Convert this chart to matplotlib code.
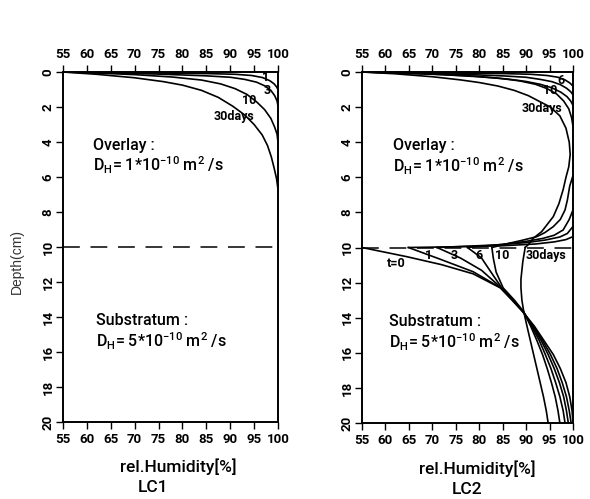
import matplotlib
matplotlib.use('Agg')
import matplotlib.pyplot as plt

# ---------------- data (RH in %, depth in cm) ----------------
x_ticks = [55, 60, 65, 70, 75, 80, 85, 90, 95, 100]
y_ticks = [0, 2, 4, 6, 8, 10, 12, 14, 16, 18, 20]
interface_depth = 10

# LC1 (overlay drying from the surface)
lc1_t1_rh = [55, 65, 75, 85, 91, 94.5, 96.8, 98.3, 99.2, 99.7, 100]
lc1_t1_d = [0, 0.03, 0.06, 0.09, 0.13, 0.2, 0.32, 0.5, 0.68, 0.85, 1.0]
lc1_t3_rh = [55, 65, 75, 85, 90, 93, 95.5, 97.3, 98.5, 99.3, 99.8, 100]
lc1_t3_d = [0, 0.05, 0.12, 0.22, 0.3, 0.42, 0.58, 0.8, 1.05, 1.35, 1.65, 1.95]
lc1_t10_rh = [55, 62, 70, 78, 84, 88, 91, 93.5, 95.5, 97.2, 98.5, 99.3, 99.8, 100]
lc1_t10_d = [0, 0.06, 0.15, 0.29, 0.46, 0.68, 0.95, 1.28, 1.7, 2.15, 2.65, 3.15, 3.55, 4.0]
lc1_t30_rh = [55, 62, 70, 76, 80, 84, 87.5, 90.5, 93, 95, 96.7, 97.8, 98.6, 99.2, 99.7, 100]
lc1_t30_d = [0, 0.13, 0.33, 0.55, 0.75, 1.05, 1.45, 1.95, 2.45, 3.0, 3.6, 4.2, 4.85, 5.5, 6.1, 6.7]

# LC2 overlay, near the surface
lc2_t1_top_rh = [55, 65, 75, 85, 91, 94.5, 96.8, 98.3, 99.3, 100]
lc2_t1_top_d = [0, 0.03, 0.06, 0.09, 0.13, 0.2, 0.3, 0.45, 0.62, 0.8]
lc2_t3_top_rh = [55, 65, 75, 85, 90, 93, 95.5, 97.3, 98.6, 99.5, 100]
lc2_t3_top_d = [0, 0.05, 0.12, 0.22, 0.3, 0.42, 0.55, 0.72, 0.92, 1.12, 1.3]
lc2_t6_top_rh = [55, 63, 72, 80, 86, 90, 93, 95.5, 97.4, 98.7, 99.5, 100]
lc2_t6_top_d = [0, 0.06, 0.15, 0.27, 0.4, 0.54, 0.7, 0.9, 1.15, 1.4, 1.65, 1.9]
lc2_t10_top_rh = [55, 62, 70, 78, 84, 88.5, 92, 94.5, 96.5, 98, 99.1, 99.7, 100]
lc2_t10_top_d = [0, 0.05, 0.12, 0.22, 0.35, 0.5, 0.7, 0.95, 1.25, 1.65, 2.1, 2.6, 3.1]
lc2_t30_ov_rh = [55, 62, 70, 76, 80, 84, 87.5, 90.5, 93, 95.2, 97.2, 98.5, 99.2, 99.4, 99.1,
                 98.5, 97.9, 97.0, 95.8, 93.3, 91.5, 90.6, 89.8]
lc2_t30_ov_d = [0, 0.1, 0.27, 0.45, 0.6, 0.8, 1.05, 1.35, 1.7, 2.0, 2.5, 3.2, 4.0, 4.7, 5.4,
                6.0, 6.7, 7.5, 8.24, 9.1, 9.48, 9.8, 10]

# LC2 overlay, near the interface
lc2_t1_if_rh = [100, 98.5, 96, 92, 85, 75, 64.9]
lc2_t1_if_d = [9.38, 9.55, 9.68, 9.8, 9.9, 9.96, 10]
lc2_t3_if_rh = [100, 98.8, 97.2, 94, 90, 84, 71]
lc2_t3_if_d = [8.8, 9.2, 9.4, 9.58, 9.72, 9.85, 10]
lc2_t6_if_rh = [100, 99.2, 97.9, 96, 93.6, 90, 85, 77.5]
lc2_t6_if_d = [7.86, 8.4, 9.0, 9.3, 9.48, 9.65, 9.82, 10]
lc2_t10_if_rh = [100, 99.3, 98.8, 98.3, 97.3, 95.8, 94, 92.3, 89, 86, 82.7]
lc2_t10_if_d = [5.9, 6.5, 7.3, 7.86, 8.4, 8.81, 9.15, 9.38, 9.6, 9.78, 10]

# LC2 substratum
lc2_t0_sub_rh = [55, 64.5, 72, 78.7, 84.5, 87.0, 89.3, 91.8, 93.8, 95.8, 97.3, 98.5, 99.3, 99.8, 100]
lc2_t0_sub_d = [10, 10.52, 10.98, 11.5, 12.3, 13.0, 13.66, 14.5, 15.3, 16.1, 16.9, 17.7, 18.5, 19.3, 20]
lc2_t1_sub_rh = [64.9, 71.5, 78.7, 84.6, 87.1, 89.3, 91.6, 93.5, 95.2, 96.6, 97.7, 98.6, 99.2, 99.6]
lc2_t1_sub_d = [10, 10.65, 11.38, 12.3, 13.0, 13.66, 14.5, 15.3, 16.1, 16.9, 17.7, 18.5, 19.3, 20]
lc2_t3_sub_rh = [71, 76, 80.5, 84.7, 87.2, 89.4, 91.4, 93.2, 94.7, 96.0, 97.1, 98.0, 98.6, 99.0]
lc2_t3_sub_d = [10, 10.6, 11.3, 12.3, 13.0, 13.66, 14.5, 15.3, 16.1, 16.9, 17.7, 18.5, 19.3, 20]
lc2_t6_sub_rh = [77.5, 80.5, 82.5, 84.8, 87.3, 89.4, 91.2, 92.8, 94.1, 95.3, 96.3, 97.2, 97.9, 98.3]
lc2_t6_sub_d = [10, 10.6, 11.4, 12.3, 13.0, 13.66, 14.5, 15.3, 16.1, 16.9, 17.7, 18.5, 19.3, 20]
lc2_t10_sub_rh = [82.7, 83.0, 83.6, 85.1, 87.5, 89.5, 91.0, 92.3, 93.5, 94.5, 95.4, 96.2, 96.8, 97.2]
lc2_t10_sub_d = [10, 10.6, 11.4, 12.3, 13.0, 13.66, 14.5, 15.3, 16.1, 16.9, 17.7, 18.5, 19.3, 20]
lc2_t30_sub_rh = [89.8, 89.3, 88.9, 88.9, 89.1, 89.5, 90.2, 90.9, 91.6, 92.3, 93.0, 93.7, 94.3, 94.7]
lc2_t30_sub_d = [10, 10.8, 11.8, 12.3, 13.0, 13.66, 14.5, 15.3, 16.1, 16.9, 17.7, 18.5, 19.3, 20]

# ---------------- figure ----------------
FONT = ['Roboto', 'DejaVu Sans']
plt.rcParams['font.family'] = FONT
plt.rcParams['mathtext.default'] = 'regular'

W, H = 590, 499
fig = plt.figure(figsize=(W / 100, H / 100), dpi=100)
ax1 = fig.add_axes([63 / W, 1 - 422 / H, 215 / W, 350 / H])
ax2 = fig.add_axes([362 / W, 1 - 423 / H, 211 / W, 351 / H])

LW = 1.2
for ax in (ax1, ax2):
    ax.set_xlim(55, 100)
    ax.set_ylim(20, 0)
    ax.set_xticks(x_ticks)
    ax.set_xticklabels([str(v) for v in x_ticks])
    ax.set_yticks(y_ticks)
    ax.set_yticklabels([str(v) for v in y_ticks], rotation=90, va='center')
    ax.tick_params(axis='x', top=True, labeltop=True, bottom=True, labelbottom=True,
                   direction='out', length=5, width=1.0, pad=3, labelsize=9.5)
    ax.tick_params(axis='y', direction='out', length=5, width=1.0, pad=1, labelsize=9.5)
    for t in ax.xaxis.get_major_ticks() + ax.yaxis.get_major_ticks():
        t.label1.set_fontweight('bold')
        t.label2.set_fontweight('bold')
    for s in ax.spines.values():
        s.set_linewidth(1.4)
    ax.axhline(interface_depth, color='black', lw=1.1, dashes=(11, 7))

# LC1 curves
for rh, d in [(lc1_t1_rh, lc1_t1_d), (lc1_t3_rh, lc1_t3_d),
              (lc1_t10_rh, lc1_t10_d), (lc1_t30_rh, lc1_t30_d)]:
    ax1.plot(rh, d, color='black', lw=LW)

# LC2 curves
for rh, d in [(lc2_t1_top_rh, lc2_t1_top_d), (lc2_t3_top_rh, lc2_t3_top_d),
              (lc2_t6_top_rh, lc2_t6_top_d), (lc2_t10_top_rh, lc2_t10_top_d),
              (lc2_t30_ov_rh, lc2_t30_ov_d),
              (lc2_t1_if_rh, lc2_t1_if_d), (lc2_t3_if_rh, lc2_t3_if_d),
              (lc2_t6_if_rh, lc2_t6_if_d), (lc2_t10_if_rh, lc2_t10_if_d),
              (lc2_t0_sub_rh, lc2_t0_sub_d), (lc2_t1_sub_rh, lc2_t1_sub_d),
              (lc2_t3_sub_rh, lc2_t3_sub_d), (lc2_t6_sub_rh, lc2_t6_sub_d),
              (lc2_t10_sub_rh, lc2_t10_sub_d), (lc2_t30_sub_rh, lc2_t30_sub_d)]:
    ax2.plot(rh, d, color='black', lw=LW)

# curve labels
lab_kw = dict(fontsize=9, fontweight='bold', ha='center', va='center')
ax1.text(97.3, 0.3, '1', **lab_kw)
ax1.text(97.8, 1.05, '3', **lab_kw)
ax1.text(94.0, 1.65, '10', **lab_kw)
ax1.text(90.8, 2.55, '30days', **lab_kw)
ax2.text(97.4, 0.46, '6', **lab_kw)
ax2.text(95.2, 1.05, '10', **lab_kw)
ax2.text(93.3, 2.1, '30days', **lab_kw)
ax2.text(62.4, 10.9, 't=0', **lab_kw)
ax2.text(69.1, 10.45, '1', **lab_kw)
ax2.text(74.6, 10.45, '3', **lab_kw)
ax2.text(80.0, 10.45, '6', **lab_kw)
ax2.text(85.0, 10.45, '10', **lab_kw)
ax2.text(94.2, 10.45, '30days', **lab_kw)

# layer annotations
ann_kw = dict(fontsize=11.5, fontweight='medium', ha='left', va='center')
for ax, x0 in ((ax1, 61.3), (ax2, 61.6)):
    ax.text(x0, 4.2, 'Overlay :', **ann_kw)
    ax.text(x0, 5.35, r'D$_\mathregular{H}$= 1*10$^{-10}$ m$^{2}$ /s', **ann_kw)
for ax, x0 in ((ax1, 62.0), (ax2, 60.8)):
    ax.text(x0, 14.2, 'Substratum :', **ann_kw)
    ax.text(x0, 15.4, r'D$_\mathregular{H}$= 5*10$^{-10}$ m$^{2}$ /s', **ann_kw)

# axis titles
tit_kw = dict(fontsize=12.5, fontweight='medium', ha='center', va='center')
fig.text(178 / W, 1 - 467 / H, 'rel.Humidity[%]', **tit_kw)
fig.text(153 / W, 1 - 488 / H, 'LC1', **tit_kw)
fig.text(477 / W, 1 - 469 / H, 'rel.Humidity[%]', **tit_kw)
fig.text(467 / W, 1 - 489 / H, 'LC2', **tit_kw)
fig.text(17 / W, 1 - 262 / H, 'Depth(cm)', rotation=90, fontsize=10, ha='center', va='center',
         family=['Liberation Sans', 'DejaVu Sans'], color='#333333')

fig.savefig('out.png', dpi=100)
